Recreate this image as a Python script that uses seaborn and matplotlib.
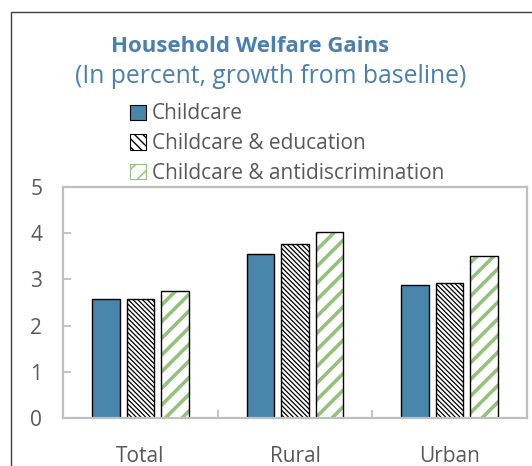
"""
Household welfare gains by area, three policy scenarios
"""

import pandas as pd
import numpy as np
import matplotlib

matplotlib.use("Agg")
import matplotlib.pyplot as plt
from matplotlib.patches import Patch, Rectangle
import seaborn as sns

# Data (percent growth from baseline)
areas = ["Total", "Rural", "Urban"]
scenarios = ["Childcare", "Childcare & education", "Childcare & antidiscrimination"]
childcare = [2.58, 3.55, 2.88]
childcare_education = [2.57, 3.77, 2.92]
childcare_antidisc = [2.75, 4.03, 3.51]
y_ticks = [0, 1, 2, 3, 4, 5]

BLUE = "#4886AB"
GREEN = "#93C27D"
TITLE_BLUE = "#4A80B0"
TEXT_GRAY = "#595959"
SPINE_GRAY = "#BFBFBF"

sns.set_style("white")
plt.rcParams["font.family"] = ["Open Sans", "DejaVu Sans"]

df = pd.DataFrame(
    {
        "area": areas * 3,
        "scenario": np.repeat(scenarios, len(areas)),
        "value": childcare + childcare_education + childcare_antidisc,
    }
)

fig = plt.figure(figsize=(5.32, 4.66), dpi=100)
ax = fig.add_axes([0.1184, 0.103, 0.8722, 0.4957])

sns.barplot(
    data=df,
    x="area",
    y="value",
    hue="scenario",
    order=areas,
    hue_order=scenarios,
    palette=[BLUE, "white", "white"],
    width=0.67,
    gap=0.2,
    edgecolor="black",
    linewidth=1.0,
    saturation=1,
    legend=False,
    ax=ax,
)

# education: dense black diagonal hatch
for bar in ax.containers[1]:
    bar.set_hatch("\\\\\\\\\\\\\\")
    bar.set_edgecolor("black")
    if hasattr(bar, "set_hatch_linewidth"):
        bar.set_hatch_linewidth(0.9)

# antidiscrimination: thick green stripes, black outline drawn on top
for bar in ax.containers[2]:
    bar.set_hatch("//")
    bar.set_edgecolor(GREEN)
    bar.set_linewidth(0)
    if hasattr(bar, "set_hatch_linewidth"):
        bar.set_hatch_linewidth(2.6)
    ax.add_patch(
        Rectangle(
            bar.get_xy(), bar.get_width(), bar.get_height(),
            fill=False, edgecolor="black", linewidth=1.0, zorder=bar.get_zorder() + 0.1,
        )
    )

ax.set_xlim(-0.5, 2.5)
ax.set_ylim(0, 5)
ax.set_yticks(y_ticks)
ax.set_xlabel("")
ax.set_ylabel("")

for sp in ax.spines.values():
    sp.set_visible(True)
    sp.set_color(SPINE_GRAY)
    sp.set_linewidth(1.6)

ax.tick_params(axis="y", direction="in", length=6, width=1.3, color=SPINE_GRAY,
               labelsize=15, labelcolor=TEXT_GRAY, pad=15, left=True)
ax.tick_params(axis="x", which="major", length=0, labelsize=15,
               labelcolor=TEXT_GRAY, pad=20)
ax.set_xticks([0.5, 1.5], minor=True)
ax.tick_params(axis="x", which="minor", direction="in", length=6, width=1.3,
               color=SPINE_GRAY, bottom=True)

# titles
fig.text(0.47, 0.901, "Household Welfare Gains", ha="center", va="center",
         fontsize=16, fontweight="bold", color=TITLE_BLUE)
fig.text(0.508, 0.836, "(In percent, growth from baseline)", ha="center",
         va="center", fontsize=17.8, color=TITLE_BLUE)

# legend
handles = [
    Patch(facecolor=BLUE, edgecolor="black", linewidth=0.8),
    Patch(facecolor="white", edgecolor="black", hatch="\\\\\\\\", linewidth=0.8),
    Patch(facecolor="white", edgecolor=GREEN, hatch="//", linewidth=0.8),
]
leg = fig.legend(
    handles, scenarios,
    loc="upper left", bbox_to_anchor=(0.245, 0.778),
    frameon=False, fontsize=15, handlelength=0.75, handleheight=0.75,
    handletextpad=0.3, labelspacing=0.42, borderpad=0, borderaxespad=0,
)
for t in leg.get_texts():
    t.set_color(TEXT_GRAY)

# outer frame of the panel
fig.add_artist(Rectangle((11 / 532, -0.05), 1.2, 1 - 12 / 466 + 0.05,
                         transform=fig.transFigure, fill=False,
                         edgecolor="#404040", linewidth=1.0))

fig.savefig("out.png", dpi=100)
